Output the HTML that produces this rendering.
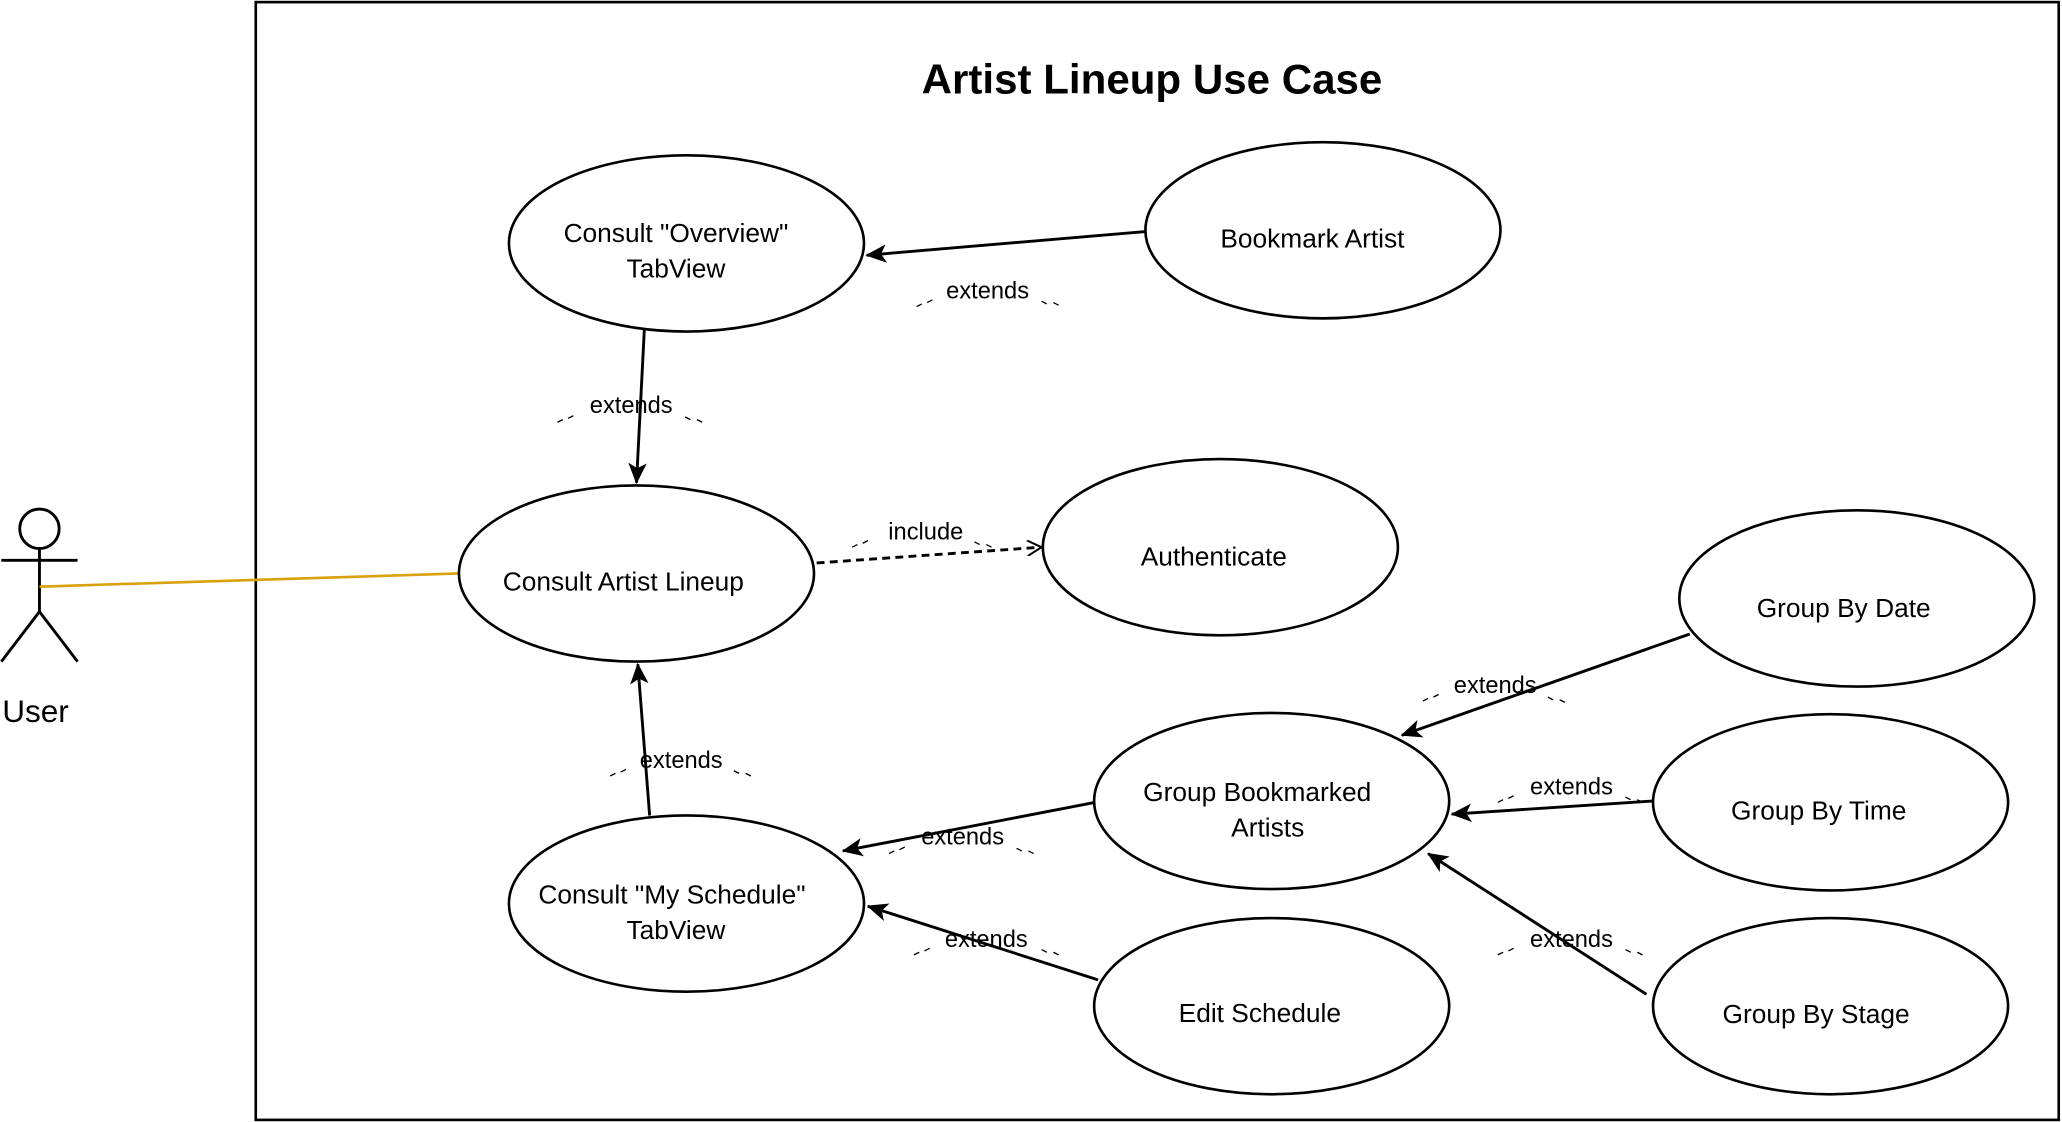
<!DOCTYPE html>
<html><head><meta charset="utf-8"><style>
html,body{margin:0;padding:0;background:#fff;}
svg{display:block;}
text{font-family:"Liberation Sans",sans-serif;fill:#000;}
</style></head><body>
<svg width="2062" height="1122" viewBox="0 0 1568 853" xmlns="http://www.w3.org/2000/svg">
<defs>
<marker id="a" viewBox="0 0 16 14" refX="15" refY="7" markerWidth="16" markerHeight="14" markerUnits="userSpaceOnUse" orient="auto"><path d="M0,0 L16,7 L0,14 L4,7 Z" fill="#000"/></marker>
<marker id="o" viewBox="0 0 12 12" refX="11" refY="6" markerWidth="12" markerHeight="12" markerUnits="userSpaceOnUse" orient="auto"><path d="M0,0 L11,6 L0,12" fill="none" stroke="#000" stroke-width="1.5"/></marker>
</defs>
<rect x="194.5" y="1.5" width="1371" height="850" fill="none" stroke="#000" stroke-width="2"/>
<text x="876" y="71" font-size="32" font-weight="bold" text-anchor="middle">Artist Lineup Use Case</text>
<g stroke="#000" stroke-width="2.2" fill="none">
<circle cx="30" cy="402" r="15"/>
<line x1="30" y1="417" x2="30" y2="465"/>
<line x1="1" y1="426" x2="59" y2="426"/>
<line x1="30" y1="465" x2="1" y2="503"/>
<line x1="30" y1="465" x2="59" y2="503"/>
</g>
<text x="27" y="549" font-size="24" text-anchor="middle">User</text>
<line x1="30" y1="446" x2="349" y2="436" stroke="#d9a00f" stroke-width="2"/>
<g fill="#fff" stroke="#000" stroke-width="2">
<ellipse cx="522" cy="185" rx="135" ry="67"/>
<ellipse cx="1006" cy="175" rx="135" ry="67"/>
<ellipse cx="484" cy="436" rx="135" ry="67"/>
<ellipse cx="928" cy="416" rx="135" ry="67"/>
<ellipse cx="1412" cy="455" rx="135" ry="67"/>
<ellipse cx="967" cy="609" rx="135" ry="67"/>
<ellipse cx="1392" cy="610" rx="135" ry="67"/>
<ellipse cx="522" cy="687" rx="135" ry="67"/>
<ellipse cx="967" cy="765" rx="135" ry="67"/>
<ellipse cx="1392" cy="765" rx="135" ry="67"/>
</g>
<g font-size="20" text-anchor="middle">
<text x="514" y="184">Consult "Overview"</text><text x="514" y="211">TabView</text>
<text x="998" y="188">Bookmark Artist</text>
<text x="474" y="449">Consult Artist Lineup</text>
<text x="923" y="430">Authenticate</text>
<text x="1402" y="469">Group By Date</text>
<text x="956" y="609">Group Bookmarked</text><text x="964" y="636">Artists</text>
<text x="1383" y="623">Group By Time</text>
<text x="511" y="687">Consult "My Schedule"</text><text x="514" y="714">TabView</text>
<text x="958" y="777">Edit Schedule</text>
<text x="1381" y="778">Group By Stage</text>
</g>
<g stroke="#000" stroke-width="2.2" fill="none">
<line x1="871" y1="176" x2="659" y2="194" marker-end="url(#a)"/>
<line x1="490" y1="250" x2="484" y2="367" marker-end="url(#a)"/>
<line x1="621" y1="428" x2="792" y2="416" stroke-dasharray="6,4" marker-end="url(#o)"/>
<line x1="494" y1="620" x2="485" y2="505" marker-end="url(#a)"/>
<line x1="1285" y1="482" x2="1066" y2="559" marker-end="url(#a)"/>
<line x1="1257" y1="609" x2="1104" y2="619" marker-end="url(#a)"/>
<line x1="1252" y1="756" x2="1086" y2="649" marker-end="url(#a)"/>
<line x1="833" y1="610" x2="641" y2="647" marker-end="url(#a)"/>
<line x1="835" y1="745" x2="660" y2="689" marker-end="url(#a)"/>
</g>
<g font-size="18" text-anchor="middle">
<text x="751" y="227">extends</text>
<text x="480" y="314">extends</text>
<text x="704" y="410">include</text>
<text x="518" y="584">extends</text>
<text x="1137" y="527">extends</text>
<text x="1195" y="604">extends</text>
<text x="732" y="642">extends</text>
<text x="750" y="720">extends</text>
<text x="1195" y="720">extends</text>
</g>
<g stroke="#000" stroke-width="1" fill="none">
<path d="M697,233 l4,-2 M705,230 l4,-2 M792,229 l4,2 M801,230 l4,2"/>
<path d="M424,321 l4,-2 M432,318 l4,-2 M521,317 l4,2 M530,319 l4,2"/>
<path d="M648,416 l4,-2 M656,413 l4,-2 M741,412 l4,2 M750,414 l4,2"/>
<path d="M464,590 l4,-2 M472,587 l4,-2 M558,586 l4,2 M567,588 l4,2"/>
<path d="M1082,533 l4,-2 M1090,530 l4,-2 M1177,530 l4,2 M1186,532 l4,2"/>
<path d="M1139,610 l4,-2 M1147,607 l4,-2 M1236,606 l4,2 M1245,608 l4,2"/>
<path d="M676,649 l4,-2 M684,646 l4,-2 M773,645 l4,2 M782,647 l4,2"/>
<path d="M695,726 l4,-2 M703,723 l4,-2 M792,722 l4,2 M801,724 l4,2"/>
<path d="M1139,726 l4,-2 M1147,723 l4,-2 M1236,722 l4,2 M1245,724 l4,2"/>
</g>
</svg>
</body></html>
